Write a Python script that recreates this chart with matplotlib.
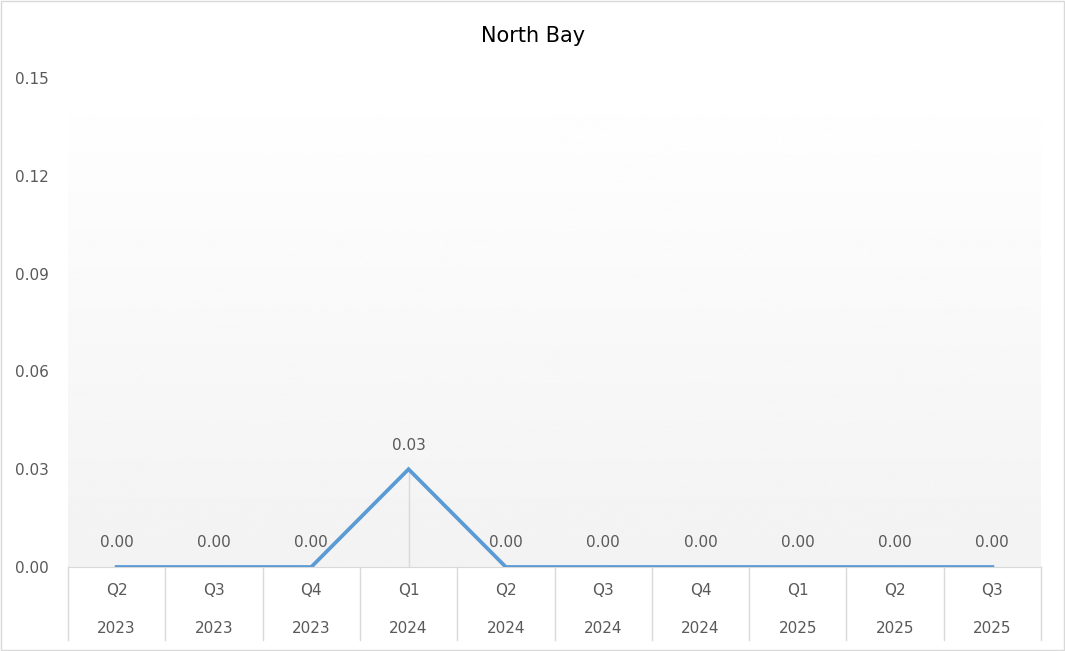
import numpy as np
import matplotlib
matplotlib.use('Agg')
import matplotlib.pyplot as plt
from matplotlib.lines import Line2D

quarters = ["Q2", "Q3", "Q4", "Q1", "Q2", "Q3", "Q4", "Q1", "Q2", "Q3"]
years = ["2023", "2023", "2023", "2024", "2024", "2024", "2024", "2025", "2025", "2025"]
values = [0.00, 0.00, 0.00, 0.03, 0.00, 0.00, 0.00, 0.00, 0.00, 0.00]
yticks = [0.00, 0.03, 0.06, 0.09, 0.12, 0.15]

TXT = '#595959'
fig = plt.figure(figsize=(10.65, 6.51), dpi=100)
fig.patches.append(plt.Rectangle((0.001, 0.001), 0.998, 0.997, transform=fig.transFigure,
                                 fill=False, edgecolor='#d9d9d9', lw=1))
ax = fig.add_axes([68/1065, 84/651, 973/1065, 489/651])
n = len(values)
x = np.arange(n)
ax.set_xlim(-0.5, n - 0.5)
ax.set_ylim(0, 0.15)

# gradient background: white at top, light grey at bottom
grad = np.linspace(0.95, 1.0, 256).reshape(-1, 1)
ax.imshow(grad, extent=(-0.5, n - 0.5, 0, 0.15), origin='lower', cmap='gray',
          vmin=0, vmax=1, aspect='auto', zorder=0)

for xi, v in zip(x, values):
    ax.plot([xi, xi], [0, v], color='#d9d9d9', lw=1, zorder=1)
ax.plot(x, values, color='#5b9bd5', lw=2.7, zorder=3, solid_joinstyle='miter')
for xi, v in zip(x, values):
    ax.annotate(f"{v:.2f}", (xi, v), xytext=(0, 12), textcoords='offset points',
                ha='center', va='bottom', fontsize=11, color=TXT)

ax.set_yticks(yticks)
ax.set_yticklabels([f"{t:.2f}" for t in yticks], fontsize=11, color=TXT)
ax.tick_params(axis='y', length=0, pad=14)
ax.set_xticks([])
for s in ['top', 'right', 'left']:
    ax.spines[s].set_visible(False)
ax.spines['bottom'].set_color('#d9d9d9')

# two-level category axis
for i in range(n + 1):
    xb = -0.5 + i
    ax.add_line(Line2D([xb, xb], [0, -0.0225], color='#d9d9d9', lw=1, clip_on=False))
for xi, q, y in zip(x, quarters, years):
    ax.text(xi, -0.0072, q, ha='center', va='center', fontsize=11, color=TXT)
    ax.text(xi, -0.0189, y, ha='center', va='center', fontsize=11, color=TXT)

fig.text(533/1065, 1 - 36/651, "North Bay", ha='center', va='center', fontsize=15, color='black')
fig.savefig('out.png', dpi=100)
